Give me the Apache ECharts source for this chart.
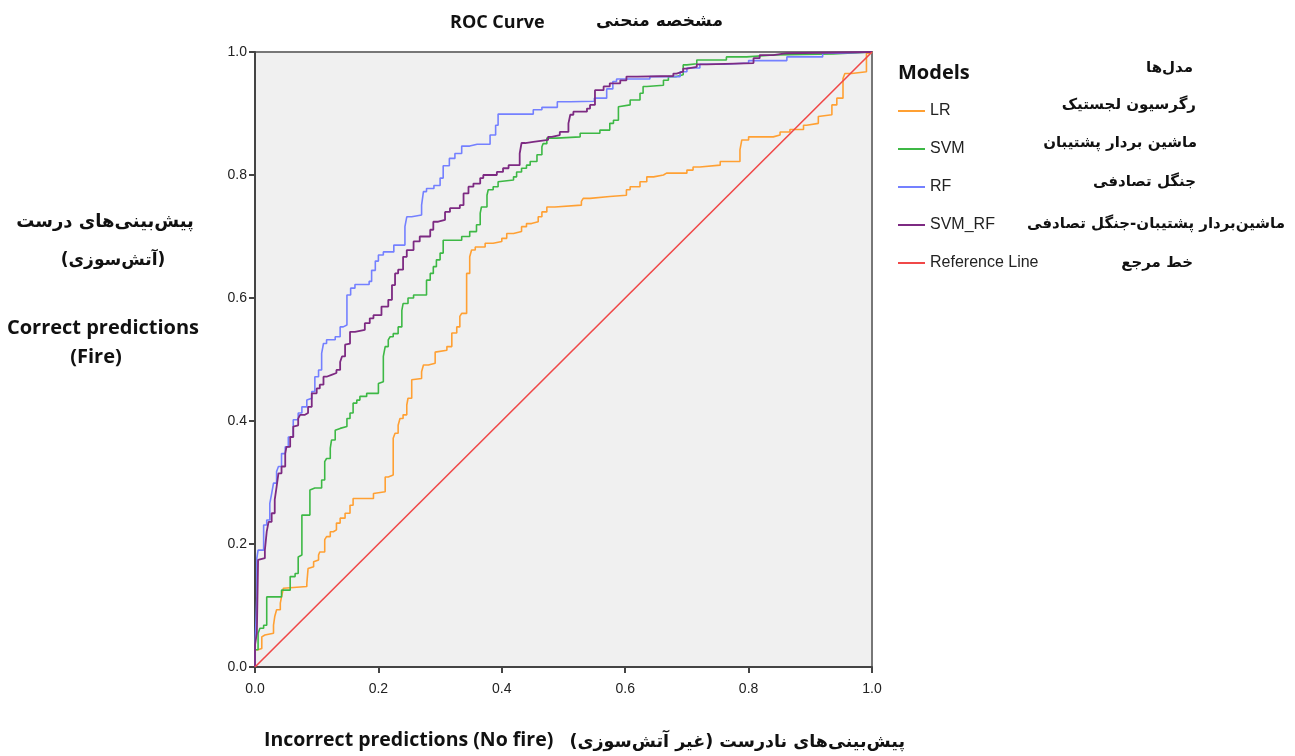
<!DOCTYPE html>
<html lang="en">
<head>
    <meta charset="UTF-8">
    <title>ROC Curve</title>
    <script src="https://cdn.jsdelivr.net/npm/echarts@6/dist/echarts.min.js"></script>
    <style>
        html, body { margin: 0; padding: 0; background: #fff; }
        #chart1 { width: 1295px; height: 756px; }
    </style>
</head>
<body>
<div id="chart1"></div>
<script type="text/javascript">
    // [fpr, tpr] points
    var lrPts = [[0,0],[0.005,0.028],[0.011,0.03],[0.011,0.049],[0.016,0.052],[0.03,0.055],[0.032,0.068],[0.035,0.082],
        [0.041,0.093],[0.043,0.104],[0.046,0.114],[0.049,0.128],[0.084,0.131],[0.086,0.136],[0.086,0.16],[0.095,0.163],
        [0.097,0.171],[0.103,0.174],[0.105,0.182],[0.113,0.187],[0.116,0.207],[0.122,0.212],[0.127,0.22],[0.132,0.223],
        [0.138,0.234],[0.146,0.242],[0.154,0.25],[0.159,0.263],[0.17,0.274],[0.192,0.274],[0.194,0.282],[0.211,0.285],
        [0.216,0.309],[0.224,0.312],[0.227,0.372],[0.232,0.38],[0.235,0.393],[0.24,0.404],[0.246,0.41],[0.248,0.426],
        [0.254,0.437],[0.257,0.467],[0.27,0.469],[0.273,0.48],[0.281,0.491],[0.292,0.494],[0.294,0.512],[0.311,0.515],
        [0.319,0.521],[0.327,0.543],[0.332,0.553],[0.335,0.57],[0.343,0.575],[0.343,0.632],[0.348,0.64],[0.351,0.667],
        [0.357,0.678],[0.373,0.683],[0.386,0.689],[0.4,0.692],[0.408,0.697],[0.419,0.705],[0.432,0.708],[0.44,0.716],
        [0.448,0.721],[0.459,0.724],[0.465,0.732],[0.473,0.74],[0.486,0.748],[0.529,0.751],[0.532,0.757],[0.543,0.762],
        [0.575,0.765],[0.602,0.767],[0.608,0.776],[0.624,0.781],[0.635,0.789],[0.646,0.797],[0.662,0.8],[0.667,0.803],
        [0.7,0.803],[0.71,0.808],[0.721,0.813],[0.754,0.816],[0.786,0.822],[0.789,0.841],[0.8,0.857],[0.81,0.862],
        [0.84,0.862],[0.851,0.865],[0.867,0.87],[0.889,0.874],[0.894,0.881],[0.913,0.884],[0.916,0.895],[0.935,0.898],
        [0.943,0.914],[0.953,0.925],[0.956,0.957],[0.967,0.965],[0.991,0.968],[0.997,0.998],[1,1]];

    var svmPts = [[0,0],[0.005,0.028],[0.008,0.055],[0.014,0.063],[0.019,0.068],[0.019,0.104],[0.027,0.114],[0.043,0.114],
        [0.046,0.125],[0.057,0.125],[0.057,0.141],[0.065,0.147],[0.07,0.152],[0.07,0.179],[0.076,0.182],[0.076,0.228],
        [0.081,0.247],[0.089,0.247],[0.089,0.288],[0.097,0.291],[0.108,0.291],[0.113,0.304],[0.116,0.334],[0.122,0.339],
        [0.124,0.356],[0.13,0.369],[0.132,0.385],[0.138,0.388],[0.149,0.391],[0.154,0.404],[0.159,0.413],[0.165,0.429],
        [0.17,0.434],[0.181,0.44],[0.189,0.445],[0.2,0.445],[0.203,0.461],[0.208,0.464],[0.211,0.505],[0.216,0.521],
        [0.219,0.532],[0.224,0.537],[0.232,0.542],[0.238,0.553],[0.24,0.58],[0.248,0.591],[0.257,0.6],[0.267,0.605],
        [0.278,0.605],[0.284,0.629],[0.289,0.64],[0.294,0.651],[0.3,0.662],[0.305,0.673],[0.316,0.694],[0.335,0.694],
        [0.348,0.7],[0.359,0.708],[0.365,0.719],[0.367,0.738],[0.376,0.748],[0.378,0.767],[0.386,0.776],[0.394,0.781],
        [0.397,0.789],[0.419,0.792],[0.424,0.797],[0.432,0.805],[0.44,0.811],[0.446,0.816],[0.457,0.822],[0.465,0.833],
        [0.467,0.846],[0.473,0.851],[0.489,0.86],[0.527,0.862],[0.559,0.868],[0.575,0.873],[0.581,0.884],[0.589,0.889],
        [0.592,0.911],[0.608,0.914],[0.624,0.922],[0.629,0.933],[0.635,0.944],[0.662,0.946],[0.67,0.954],[0.683,0.96],
        [0.694,0.963],[0.7,0.979],[0.716,0.981],[0.764,0.987],[0.797,0.992],[0.84,0.995],[0.937,0.997],[1,1]];

    var rfPts = [[0,0],[0.003,0.033],[0.003,0.114],[0.005,0.177],[0.008,0.19],[0.014,0.19],[0.019,0.231],[0.024,0.239],
        [0.027,0.266],[0.03,0.282],[0.035,0.299],[0.038,0.318],[0.043,0.326],[0.049,0.347],[0.054,0.358],[0.062,0.374],
        [0.07,0.402],[0.076,0.413],[0.084,0.423],[0.086,0.434],[0.092,0.437],[0.097,0.448],[0.103,0.472],[0.108,0.483],
        [0.111,0.51],[0.116,0.526],[0.13,0.532],[0.138,0.537],[0.143,0.553],[0.149,0.556],[0.149,0.597],[0.155,0.605],
        [0.162,0.616],[0.185,0.622],[0.189,0.627],[0.195,0.645],[0.2,0.66],[0.208,0.67],[0.225,0.675],[0.243,0.686],
        [0.246,0.716],[0.254,0.732],[0.27,0.735],[0.273,0.751],[0.278,0.773],[0.29,0.778],[0.3,0.783],[0.305,0.795],
        [0.315,0.815],[0.324,0.827],[0.335,0.835],[0.348,0.847],[0.36,0.85],[0.381,0.85],[0.39,0.865],[0.394,0.881],
        [0.394,0.899],[0.451,0.899],[0.465,0.906],[0.49,0.91],[0.511,0.919],[0.55,0.92],[0.57,0.925],[0.58,0.94],
        [0.586,0.952],[0.64,0.956],[0.689,0.96],[0.7,0.968],[0.721,0.974],[0.76,0.98],[0.8,0.982],[0.862,0.986],
        [0.92,0.992],[0.948,0.998],[1,1]];

    var svmRfPts = [[0,0],[0.003,0.036],[0.005,0.055],[0.008,0.174],[0.016,0.177],[0.016,0.19],[0.019,0.193],[0.022,0.22],
        [0.027,0.236],[0.032,0.25],[0.035,0.272],[0.038,0.293],[0.043,0.315],[0.049,0.326],[0.051,0.347],[0.057,0.358],
        [0.062,0.374],[0.062,0.391],[0.07,0.393],[0.073,0.404],[0.081,0.41],[0.086,0.413],[0.092,0.423],[0.1,0.445],
        [0.105,0.453],[0.111,0.459],[0.116,0.472],[0.124,0.475],[0.132,0.478],[0.138,0.483],[0.141,0.496],[0.146,0.505],
        [0.146,0.524],[0.154,0.526],[0.162,0.545],[0.178,0.548],[0.186,0.559],[0.192,0.567],[0.205,0.572],[0.216,0.586],
        [0.222,0.597],[0.227,0.621],[0.232,0.64],[0.24,0.646],[0.246,0.667],[0.257,0.678],[0.267,0.692],[0.284,0.7],
        [0.289,0.711],[0.297,0.724],[0.308,0.727],[0.316,0.74],[0.332,0.746],[0.338,0.751],[0.346,0.77],[0.354,0.781],
        [0.365,0.786],[0.37,0.795],[0.392,0.8],[0.402,0.805],[0.411,0.811],[0.429,0.816],[0.432,0.835],[0.438,0.852],
        [0.451,0.854],[0.475,0.857],[0.481,0.862],[0.494,0.865],[0.508,0.87],[0.511,0.884],[0.516,0.898],[0.538,0.903],
        [0.543,0.908],[0.551,0.914],[0.551,0.933],[0.565,0.938],[0.575,0.944],[0.592,0.949],[0.602,0.954],[0.619,0.96],
        [0.678,0.961],[0.683,0.965],[0.694,0.968],[0.7,0.973],[0.716,0.976],[0.732,0.98],[0.808,0.982],[0.818,0.99],
        [0.84,0.995],[0.862,0.998],[1,1]];

    var refPts = [[0,0],[1,1]];

    var modelNames = ['LR', 'SVM', 'RF', 'SVM_RF', 'Reference Line'];
    var modelNamesFa = ['رگرسیون لجستیک', 'ماشین بردار پشتیبان', 'جنگل تصادفی', 'ماشین‌بردار پشتیبان-جنگل تصادفی', 'خط مرجع'];
    var tickLabels = ['0.0', '0.2', '0.4', '0.6', '0.8', '1.0'];

    var colors = ['#FFA033', '#3DB845', '#7480FF', '#7D2A82', '#F04848'];
    var faFont = '"DejaVu Sans", "Noto Sans", sans-serif';

    function stepLine(name, pts, color, w, step) {
        return {
            name: name,
            type: 'line',
            data: pts,
            step: step ? 'start' : false,
            symbol: 'none',
            silent: true,
            lineStyle: { color: color, width: w },
            itemStyle: { color: color }
        };
    }

    // text placed by its anchor point
    function label(txt, x, y, font, align) {
        return {
            type: 'text', x: x, y: y, silent: true,
            style: { text: txt, font: font, fill: '#111', align: align || 'left', verticalAlign: 'middle' }
        };
    }

    var myChart1 = echarts.init(document.getElementById('chart1'));

    var graphics = [
        label('ROC Curve', 450, 23, 'bold 18px "Open Sans"'),
        label('مشخصه منحنی', 596, 22, 'bold 17px ' + faFont),
        label('Models', 898, 73, 'bold 20px "Open Sans"'),
        label('مدل‌ها', 1193, 68, 'bold 15px ' + faFont, 'right'),
        // y axis title
        label('پیش‌بینی‌های درست', 105, 222, 'bold 18px ' + faFont, 'center'),
        label('(آتش‌سوزی)', 113, 261, 'bold 17px ' + faFont, 'center'),
        label('Correct predictions', 103, 328, 'bold 20px "Open Sans"', 'center'),
        label('(Fire)', 96, 357, 'bold 20px "Open Sans"', 'center'),
        // x axis title
        label('Incorrect predictions (No fire)', 264, 740, 'bold 19.5px "Open Sans"'),
        label('پیش‌بینی‌های نادرست (غیر آتش‌سوزی)', 905, 742, 'bold 17.5px ' + faFont, 'right')
    ];
    var faYs = [105, 143, 182, 224, 263];
    var faRights = [1196, 1197, 1196, 1285, 1193];
    for (var i = 0; i < modelNamesFa.length; i++) {
        graphics.push(label(modelNamesFa[i], faRights[i], faYs[i], 'bold 15px ' + faFont, 'right'));
    }

    myChart1.setOption({
        animation: false,
        grid: {
            left: 255, top: 52, width: 617, height: 615,
            show: true, backgroundColor: '#F0F0F0', borderColor: '#777', borderWidth: 2
        },
        legend: {
            data: modelNames,
            orient: 'vertical',
            left: 898, top: 102,
            padding: 0,
            icon: 'rect',
            itemWidth: 27, itemHeight: 2, itemGap: 20,
            textStyle: { fontSize: 16, lineHeight: 18, color: '#222', fontFamily: 'Liberation Sans' }
        },
        xAxis: {
            type: 'value', min: 0, max: 1, interval: 0.2,
            axisLine: { lineStyle: { color: '#444', width: 2 } },
            axisTick: { length: 6, lineStyle: { color: '#444', width: 2 } },
            axisLabel: { formatter: function (v) { return tickLabels[Math.round(v * 5)]; },
                fontSize: 14, color: '#222', fontFamily: 'Liberation Sans', margin: 15 },
            splitLine: { show: false }
        },
        yAxis: {
            type: 'value', min: 0, max: 1, interval: 0.2,
            axisLine: { show: true, lineStyle: { color: '#444', width: 2 } },
            axisTick: { show: true, length: 6, lineStyle: { color: '#444', width: 2 } },
            axisLabel: { formatter: function (v) { return tickLabels[Math.round(v * 5)]; },
                fontSize: 14, color: '#222', fontFamily: 'Liberation Sans', margin: 8 },
            splitLine: { show: false }
        },
        graphic: graphics,
        series: [
            stepLine(modelNames[0], lrPts, colors[0], 1.6, true),
            stepLine(modelNames[1], svmPts, colors[1], 1.6, true),
            stepLine(modelNames[2], rfPts, colors[2], 1.6, true),
            stepLine(modelNames[3], svmRfPts, colors[3], 1.8, true),
            stepLine(modelNames[4], refPts, colors[4], 1.6, false)
        ]
    });
</script>
</body>
</html>
